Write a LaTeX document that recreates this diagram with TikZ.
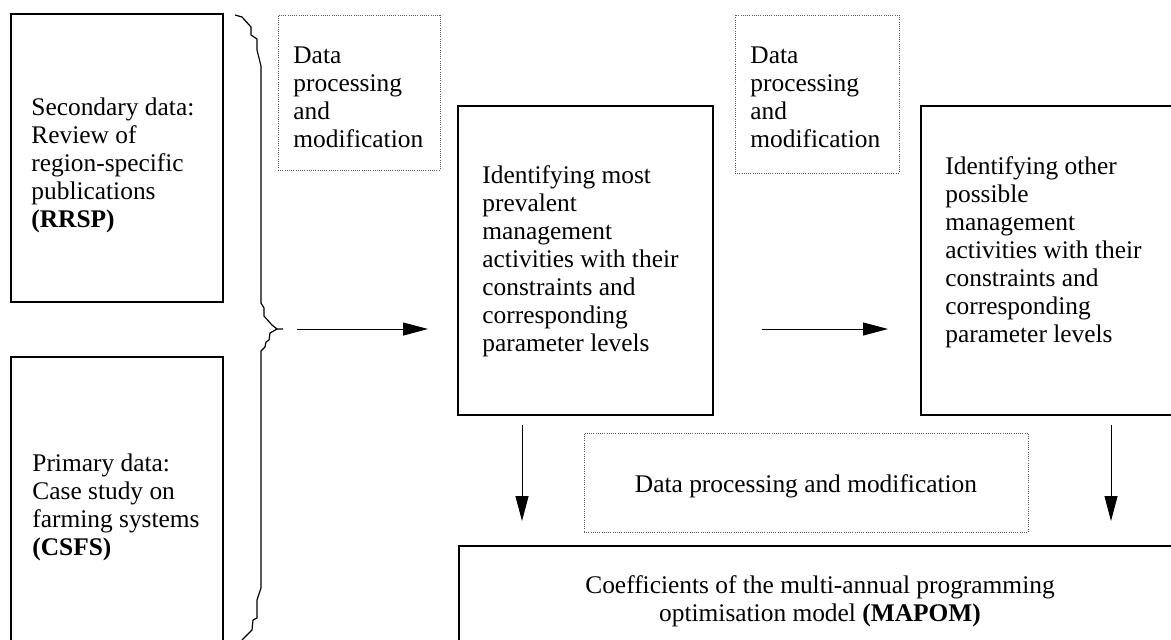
\documentclass[tikz,border=0pt]{standalone}
\usepackage{fontspec}
\setmainfont{Liberation Serif}
\usetikzlibrary{arrows.meta,fit}
\begin{document}
\begin{tikzpicture}[x=0.5pt,y=-0.5pt,
  solidbox/.style={draw, line width=1pt, inner sep=0pt},
  dotbox/.style={draw=black!65, line width=0.5pt, dash pattern=on 0.45pt off 0.65pt, inner sep=0pt},
  txt/.style={inner sep=0pt, align=left, font=\fontsize{12.7}{14}\selectfont},
  arr/.style={line width=0.5pt, -{Triangle[length=12.5pt,width=6.5pt]}},
  bracepath/.style={line width=0.6pt, line join=round}]
\useasboundingbox (0,0) rectangle (1171,639);
\fill[white] (0,0) rectangle (1171,639);

% left source boxes
\node[solidbox, fit={(11,14) (223,302)}] (rrsp) {};
\node[txt, anchor=north west] (rrsptext) at (31,97)
  {Secondary data:\\Review of\\region-specific\\publications\\\textbf{(RRSP)}};
\node[solidbox, fit={(11,357) (223,720)}] (csfs) {};
\node[txt, anchor=north west] (csfstext) at (32,453)
  {Primary data:\\Case study on\\farming systems\\\textbf{(CSFS)}};

% brace
\draw[bracepath] (235,15) -- (242,17) -- (251,27) -- (251,35) -- (257,39) -- (257,50)
  -- (261,66) -- (261,303) -- (264,308) -- (264,316) -- (272,325) -- (277,329) -- (283,329);
\draw[bracepath] (277,329) -- (270,333) -- (269,340) -- (266,342) -- (265,347) -- (261,351)
  -- (261,588) -- (257,600) -- (257,618) -- (253,620) -- (252,630) -- (243,639) -- (238,645);
\coordinate (bracetip) at (283,329);

% dotted boxes (top)
\node[dotbox, fit={(278,15) (440,170)}] (dp1) {};
\node[txt, anchor=north west] (dp1text) at (293,46)
  {Data\\processing\\and\\modification};
\node[dotbox, fit={(735,15) (899,173)}] (dp2) {};
\node[txt, anchor=north west] (dp2text) at (750,46)
  {Data\\processing\\and\\modification};

% middle boxes
\node[solidbox, fit={(458,106) (713,415)}] (prev) {};
\node[txt, anchor=north west] (prevtext) at (482,165)
  {Identifying most\\prevalent\\management\\activities with their\\constraints and\\corresponding\\parameter levels};
\node[solidbox, fit={(921,106) (1180,415)}] (other) {};
\node[txt, anchor=north west] (othertext) at (945,156)
  {Identifying other\\possible\\management\\activities with their\\constraints and\\corresponding\\parameter levels};

% bottom dotted box
\node[dotbox, fit={(584,433) (1028,532)}] (dp3) {};
\node[txt, anchor=base] (dp3text) at (806,492) {Data processing and modification};

% MAPOM box
\node[solidbox, fit={(459,546) (1181,720)}] (mapom) {};
\node[txt, align=center, anchor=north] (mapomtext) at (820,575)
  {Coefficients of the multi-annual programming\\optimisation model \textbf{(MAPOM)}};

% arrows
\coordinate (a1s) at (297,329);
\coordinate (a1e) at (428,329);
\coordinate (a2s) at (762,329);
\coordinate (a2e) at (888,329);
\coordinate (d1s) at (522,425);
\coordinate (d1e) at (522,521);
\coordinate (d2s) at (1111,425);
\coordinate (d2e) at (1111,521);
\draw[arr] (a1s) -- (a1e);
\draw[arr] (a2s) -- (a2e);
\draw[arr] (d1s) -- (d1e);
\draw[arr] (d2s) -- (d2e);
\end{tikzpicture}
\end{document}
